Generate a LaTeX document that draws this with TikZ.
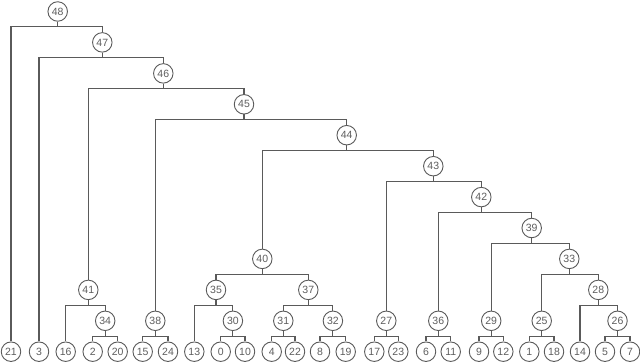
\documentclass[tikz,border=0pt]{standalone}
\usepackage{fontspec}
\setmainfont{Liberation Sans}
\usetikzlibrary{backgrounds}
\definecolor{edgegray}{HTML}{5A5A5A}
\definecolor{textgray}{HTML}{5E5E5E}
\begin{document}
\begin{tikzpicture}[x=1pt,y=-1pt,
  tn/.style={circle,draw=edgegray,line width=0.9pt,fill=white,minimum size=19.5pt,inner sep=0pt,
    font=\fontsize{10.5}{10.5}\selectfont,text=textgray},
  link/.style={draw=edgegray,line width=1.1pt}]
\useasboundingbox (0,0) rectangle (640,363);
\def\La{11.5}\def\Lb{42.4}\def\Lc{73.4}\def\Ld{104.3}\def\Le{135.2}\def\Lf{166.2}
\def\Lg{197.1}\def\Lh{228}\def\Li{258.9}\def\Lj{289.9}\def\Lk{320.8}\def\Ll{351.7}
\newcommand{\lnk}[2]{\draw[link] (#2.north) |- ([yshift=-15.3pt]#1.center) -- (#1.south);}
% leaves
\node[tn] (n21) at (11,\Ll) {21};
\node[tn] (n3) at (39,\Ll) {3};
\node[tn] (n16) at (65.7,\Ll) {16};
\node[tn] (n2) at (92.7,\Ll) {2};
\node[tn] (n20) at (117.7,\Ll) {20};
\node[tn] (n15) at (142.7,\Ll) {15};
\node[tn] (n24) at (168,\Ll) {24};
\node[tn] (n13) at (194.3,\Ll) {13};
\node[tn] (n0) at (220.7,\Ll) {0};
\node[tn] (n10) at (245,\Ll) {10};
\node[tn] (n4) at (271.7,\Ll) {4};
\node[tn] (n22) at (295,\Ll) {22};
\node[tn] (n8) at (320,\Ll) {8};
\node[tn] (n19) at (345.7,\Ll) {19};
\node[tn] (n17) at (374.3,\Ll) {17};
\node[tn] (n23) at (398.3,\Ll) {23};
\node[tn] (n6) at (426,\Ll) {6};
\node[tn] (n11) at (450.7,\Ll) {11};
\node[tn] (n9) at (479,\Ll) {9};
\node[tn] (n12) at (503.3,\Ll) {12};
\node[tn] (n1) at (529.3,\Ll) {1};
\node[tn] (n18) at (554,\Ll) {18};
\node[tn] (n14) at (580,\Ll) {14};
\node[tn] (n5) at (605,\Ll) {5};
\node[tn] (n7) at (630,\Ll) {7};
% internal
\node[tn] (n48) at (57.7,\La) {48};
\node[tn] (n47) at (102.3,\Lb) {47};
\node[tn] (n46) at (163.3,\Lc) {46};
\node[tn] (n45) at (244,\Ld) {45};
\node[tn] (n44) at (346.7,\Le) {44};
\node[tn] (n43) at (433.3,\Lf) {43};
\node[tn] (n42) at (481.3,\Lg) {42};
\node[tn] (n39) at (531.7,\Lh) {39};
\node[tn] (n33) at (569.3,\Li) {33};
\node[tn] (n28) at (598.3,\Lj) {28};
\node[tn] (n26) at (617.5,\Lk) {26};
\node[tn] (n40) at (262.3,\Li) {40};
\node[tn] (n41) at (88.3,\Lj) {41};
\node[tn] (n35) at (216,\Lj) {35};
\node[tn] (n37) at (308.3,\Lj) {37};
\node[tn] (n34) at (105.2,\Lk) {34};
\node[tn] (n38) at (155.3,\Lk) {38};
\node[tn] (n30) at (232.9,\Lk) {30};
\node[tn] (n31) at (283.3,\Lk) {31};
\node[tn] (n32) at (332.9,\Lk) {32};
\node[tn] (n27) at (386.3,\Lk) {27};
\node[tn] (n36) at (438.3,\Lk) {36};
\node[tn] (n29) at (491.2,\Lk) {29};
\node[tn] (n25) at (541.7,\Lk) {25};
% links
\begin{scope}[on background layer]
\lnk{n48}{n21}\lnk{n48}{n47}
\lnk{n47}{n3}\lnk{n47}{n46}
\lnk{n46}{n41}\lnk{n46}{n45}
\lnk{n45}{n38}\lnk{n45}{n44}
\lnk{n44}{n40}\lnk{n44}{n43}
\lnk{n43}{n27}\lnk{n43}{n42}
\lnk{n42}{n36}\lnk{n42}{n39}
\lnk{n39}{n29}\lnk{n39}{n33}
\lnk{n33}{n25}\lnk{n33}{n28}
\lnk{n28}{n14}\lnk{n28}{n26}
\lnk{n26}{n5}\lnk{n26}{n7}
\lnk{n25}{n1}\lnk{n25}{n18}
\lnk{n29}{n9}\lnk{n29}{n12}
\lnk{n36}{n6}\lnk{n36}{n11}
\lnk{n27}{n17}\lnk{n27}{n23}
\lnk{n40}{n35}\lnk{n40}{n37}
\lnk{n37}{n31}\lnk{n37}{n32}
\lnk{n32}{n8}\lnk{n32}{n19}
\lnk{n31}{n4}\lnk{n31}{n22}
\lnk{n35}{n13}\lnk{n35}{n30}
\lnk{n30}{n0}\lnk{n30}{n10}
\lnk{n38}{n15}\lnk{n38}{n24}
\lnk{n41}{n16}\lnk{n41}{n34}
\lnk{n34}{n2}\lnk{n34}{n20}
\end{scope}
\end{tikzpicture}
\end{document}
